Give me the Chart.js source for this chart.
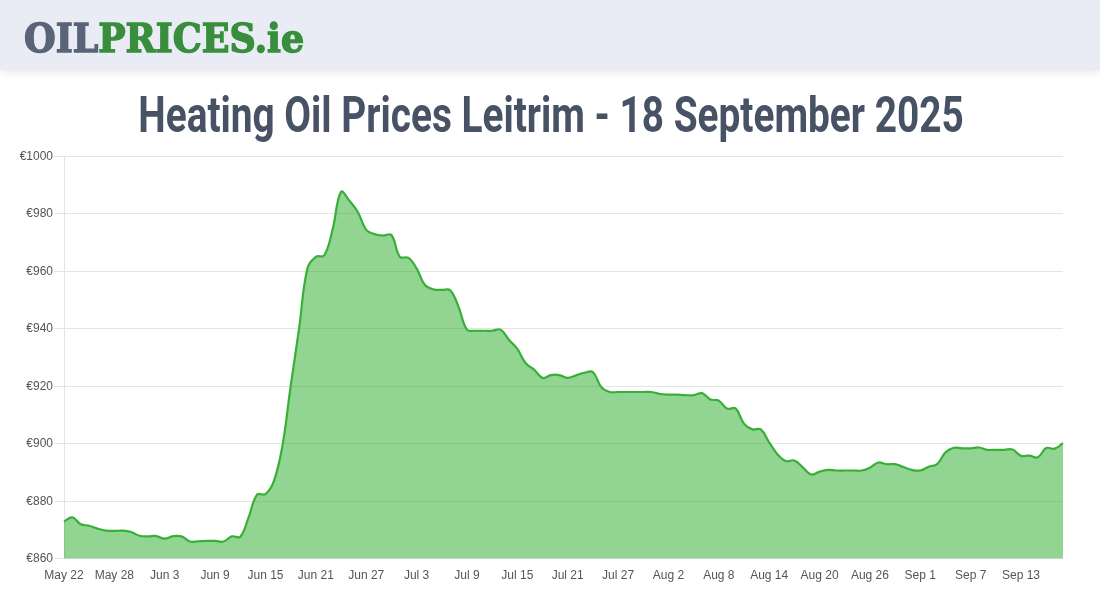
<!DOCTYPE html>
<html>
<head>
<meta charset="utf-8">
<script src="https://cdn.jsdelivr.net/npm/chart.js@4"></script>
<style>
html,body{margin:0;padding:0;background:#fff;width:1100px;height:600px;overflow:hidden}
#hdr{position:absolute;left:0;top:0;width:1100px;height:70px;background:#e9ecf5;box-shadow:0 2px 8px rgba(0,0,0,.10)}
#logo{position:absolute;left:24px;top:13px;font:900 40px/50px "DejaVu Serif",serif;letter-spacing:0;white-space:nowrap;transform-origin:left center;transform:scaleX(.909);color:#5a6479;-webkit-text-stroke:1.5px currentColor;filter:blur(.4px)}
#logo b{color:#388e3c;font-weight:900}
#title{position:absolute;left:0.5px;top:82px;width:1100px;text-align:center;font:700 50px/66px "Roboto",sans-serif;color:#475264;white-space:nowrap;transform:scaleX(.776);transform-origin:center}
#c{position:absolute;left:0;top:140px}
</style>
</head>
<body>
<div id="hdr"><div id="logo">OIL<b>PRICES.ie</b></div></div>
<div id="title">Heating Oil Prices Leitrim - 18 September 2025</div>
<canvas id="c" width="1100" height="460"></canvas>
<script>
const dates = [
"May 22","May 23","May 24","May 25","May 26","May 27","May 28","May 29","May 30","May 31",
"Jun 1","Jun 2","Jun 3","Jun 4","Jun 5","Jun 6","Jun 7","Jun 8","Jun 9","Jun 10",
"Jun 11","Jun 12","Jun 13","Jun 14","Jun 15","Jun 16","Jun 17","Jun 18","Jun 19","Jun 20",
"Jun 21","Jun 22","Jun 23","Jun 24","Jun 25","Jun 26","Jun 27","Jun 28","Jun 29","Jun 30",
"Jul 1","Jul 2","Jul 3","Jul 4","Jul 5","Jul 6","Jul 7","Jul 8","Jul 9","Jul 10",
"Jul 11","Jul 12","Jul 13","Jul 14","Jul 15","Jul 16","Jul 17","Jul 18","Jul 19","Jul 20",
"Jul 21","Jul 22","Jul 23","Jul 24","Jul 25","Jul 26","Jul 27","Jul 28","Jul 29","Jul 30",
"Jul 31","Aug 1","Aug 2","Aug 3","Aug 4","Aug 5","Aug 6","Aug 7","Aug 8","Aug 9",
"Aug 10","Aug 11","Aug 12","Aug 13","Aug 14","Aug 15","Aug 16","Aug 17","Aug 18","Aug 19",
"Aug 20","Aug 21","Aug 22","Aug 23","Aug 24","Aug 25","Aug 26","Aug 27","Aug 28","Aug 29",
"Aug 30","Aug 31","Sep 1","Sep 2","Sep 3","Sep 4","Sep 5","Sep 6","Sep 7","Sep 8",
"Sep 9","Sep 10","Sep 11","Sep 12","Sep 13","Sep 14","Sep 15","Sep 16","Sep 17","Sep 18"];
const prices = [
873,874.4,872,871.5,870.5,869.8,869.7,869.8,869.3,868,
867.8,867.9,867,867.9,867.8,866,866.1,866.2,866.2,866,
867.8,867.7,874.5,882.3,882.5,887,899,920,940,961,
965,965.5,974.6,987.6,984.5,980.6,974.4,972.9,972.4,972.6,
965,964.7,961,955.2,953.7,953.5,953.4,947.6,939.7,939.3,
939.3,939.3,939.7,936.2,933,928,925.8,922.9,923.9,923.9,
922.9,923.8,924.7,924.9,919.7,918,918,918,918,918,
918,917.3,917.1,917.1,916.9,916.9,917.6,915.4,915,912.2,
912.3,907,905,905,900.5,896.3,894,894.2,891.8,889.3,
890.3,890.9,890.7,890.7,890.7,890.7,891.7,893.5,892.9,892.9,
891.9,890.9,890.7,892,892.9,897,898.6,898.4,898.4,898.7,
897.9,897.9,897.9,898,895.8,895.9,895.3,898.5,898.3,900.2];
const seriesLabel = "Heating Oil Price";
const tickEvery = 6;

new Chart(document.getElementById('c'), {
  type: 'line',
  data: { labels: dates, datasets: [{
    label: seriesLabel, data: prices,
    borderColor: '#38b038', borderWidth: 2.2,
    backgroundColor: 'rgba(38,170,38,.5)',
    fill: true, pointRadius: 0, tension: 0.4
  }]},
  options: {
    responsive: false, animation: false,
    layout: { padding: { left: 0, right: 37, top: 16.2, bottom: 0 } },
    plugins: { legend: { display: false }, tooltip: { enabled: false } },
    scales: {
      x: {
        afterFit(s){ s.height = 41.2; },
        grid: { display: false },
        border: { display: false },
        ticks: { autoSkip: false, maxRotation: 0, padding: 2, color: '#555',
          font: { family: '"Liberation Sans",Arial,sans-serif', size: 12 },
          callback(v, i){ return i % tickEvery === 0 ? dates[i] : null; } }
      },
      y: {
        min: 860, max: 1000,
        afterFit(s){ s.width = 64; },
        grid: { color: 'rgba(0,0,0,.1)', tickLength: 10 },
        border: { color: 'rgba(0,0,0,.1)' },
        ticks: { stepSize: 20, padding: 1, color: '#555',
          font: { family: '"Liberation Sans",Arial,sans-serif', size: 12 },
          callback(v){ return '€' + v; } }
      }
    }
  }
});
</script>
</body>
</html>
